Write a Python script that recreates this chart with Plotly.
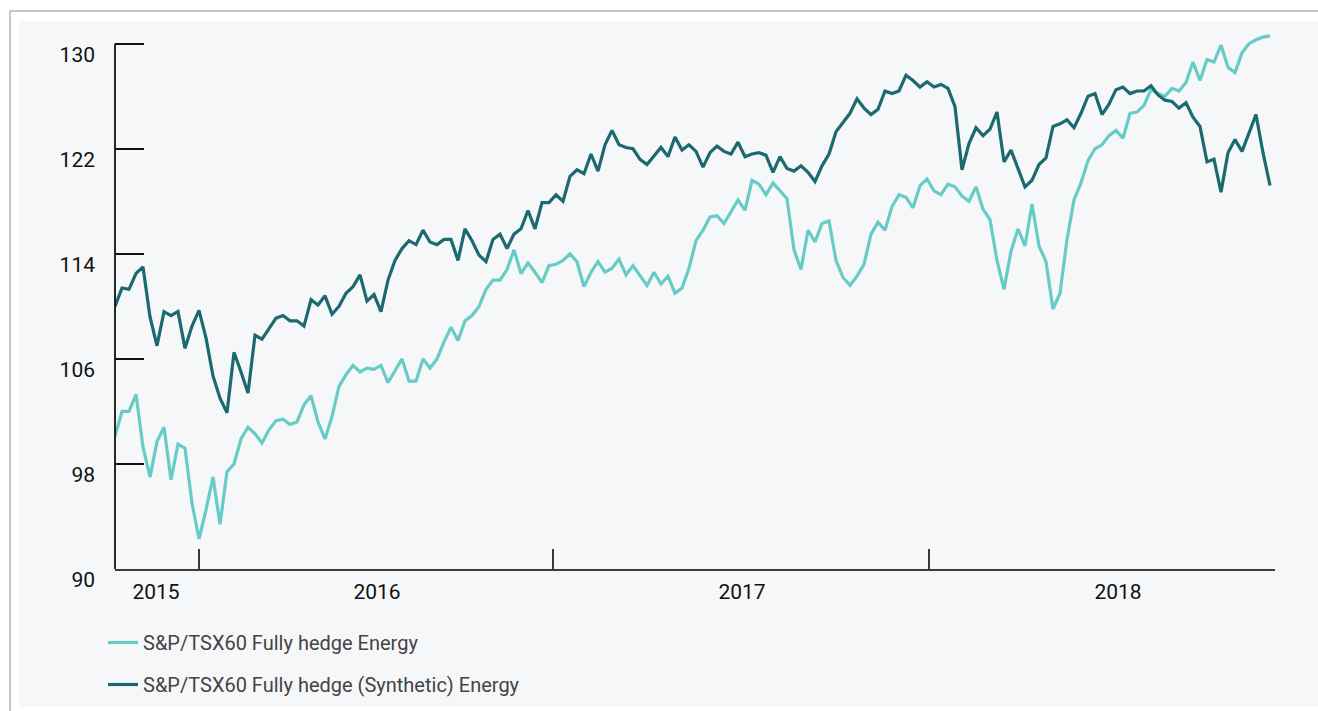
import pandas as pd
import plotly.graph_objects as go

# weekly closes, starting Monday 2015-04-13
start_date = "2015-04-13"
end_date = "2018-06-16"

hedged = [
    100.1, 102.0, 102.0, 103.3, 99.3, 97.0, 99.7, 100.8, 96.8, 99.5,
    99.2, 95.0, 92.3, 94.5, 97.0, 93.4, 97.4, 98.0, 99.9, 100.8,
    100.3, 99.6, 100.6, 101.3, 101.4, 101.0, 101.2, 102.5, 103.2, 101.2,
    99.9, 101.6, 103.9, 104.8, 105.5, 105.0, 105.3, 105.2, 105.5, 104.2,
    105.1, 106.0, 104.3, 104.3, 106.0, 105.3, 106.0, 107.3, 108.4, 107.4,
    108.9, 109.3, 110.0, 111.3, 112.0, 112.0, 112.8, 114.3, 112.5, 113.3,
    112.6, 111.8, 113.1, 113.2, 113.5, 114.0, 113.4, 111.5, 112.6, 113.4,
    112.6, 112.9, 113.6, 112.4, 113.1, 112.4, 111.6, 112.6, 111.7, 112.3,
    111.0, 111.4, 112.9, 115.0, 115.8, 116.8, 116.9, 116.3, 117.2, 118.1,
    117.3, 119.6, 119.3, 118.5, 119.4, 118.8, 118.2, 114.3, 112.8, 115.8,
    114.9, 116.3, 116.5, 113.5, 112.2, 111.6, 112.3, 113.2, 115.5, 116.4,
    115.8, 117.6, 118.5, 118.3, 117.5, 119.2, 119.7, 118.8, 118.5, 119.3,
    119.1, 118.4, 118.0, 119.1, 117.4, 116.6, 113.5, 111.3, 114.2, 115.9,
    114.6, 117.8, 114.6, 113.4, 109.8, 111.0, 115.1, 118.1, 119.4, 121.1,
    122.0, 122.3, 123.0, 123.4, 122.8, 124.7, 124.8, 125.3, 126.5, 126.2,
    126.0, 126.6, 126.4, 127.05, 128.6, 127.2, 128.8, 128.6, 129.9, 128.2,
    127.8, 129.3, 130.0, 130.3, 130.5, 130.6,
]

synthetic = [
    110.0, 111.4, 111.3, 112.5, 113.0, 109.2, 107.0, 109.6, 109.3, 109.6,
    106.8, 108.5, 109.7, 107.6, 104.7, 103.0, 101.9, 106.5, 105.0, 103.4,
    107.8, 107.5, 108.3, 109.1, 109.3, 108.9, 108.9, 108.5, 110.5, 110.1,
    110.8, 109.4, 110.0, 111.0, 111.5, 112.4, 110.4, 110.9, 109.6, 112.0,
    113.5, 114.4, 115.0, 114.7, 115.8, 114.9, 114.7, 115.1, 115.1, 113.5,
    115.9, 115.0, 113.9, 113.4, 115.1, 115.5, 114.4, 115.5, 115.9, 117.3,
    115.9, 117.9, 117.9, 118.5, 118.0, 119.9, 120.4, 120.1, 121.6, 120.3,
    122.3, 123.4, 122.3, 122.1, 122.0, 121.2, 120.8, 121.5, 122.1, 121.4,
    122.9, 121.9, 122.3, 121.8, 120.6, 121.7, 122.2, 121.8, 121.6, 122.5,
    121.4, 121.6, 121.7, 121.5, 120.2, 121.4, 120.5, 120.3, 120.7, 120.2,
    119.5, 120.7, 121.6, 123.3, 124.0, 124.7, 125.8, 125.1, 124.6, 125.0,
    126.4, 126.2, 126.4, 127.6, 127.2, 126.7, 127.1, 126.7, 126.9, 126.6,
    125.2, 120.4, 122.4, 123.6, 123.0, 123.5, 124.8, 121.0, 121.9, 120.5,
    119.1, 119.6, 120.8, 121.3, 123.7, 123.9, 124.2, 123.6, 124.7, 126.0,
    126.2, 124.6, 125.4, 126.5, 126.7, 126.2, 126.4, 126.4, 126.8, 126.1,
    125.7, 125.6, 125.1, 125.5, 124.4, 123.7, 121.0, 121.2, 118.7, 121.7,
    122.7, 121.8, 123.2, 124.6, 121.7, 119.2,
]

dates = pd.date_range(start_date, periods=len(hedged), freq="7D")

year_dates = ["2015-05-24", "2015-12-31", "2016-12-30", "2018-01-10"]
year_labels = ["2015", "2016", "2017", "2018"]
divider_dates = ["2015-07-06", "2016-06-24", "2017-07-05"]
y_ticks = [90, 98, 106, 114, 122, 130]

names = ["S&P/TSX60 Fully hedge Energy", "S&P/TSX60 Fully hedge (Synthetic) Energy"]
colors = ["#67CBC6", "#1B6A6F"]

font_family = "Roboto, 'Noto Sans', sans-serif"
panel_color = "#F6F7F9"
border_color = "#B4B4B4"

fig = go.Figure()
for i, series in enumerate([hedged, synthetic]):
    fig.add_trace(go.Scatter(
        x=dates, y=series, mode="lines", name=names[i],
        line=dict(color=colors[i], width=3.2),
        legendgroup=f"g{i}",
    ))

# panel background and its thin border
fig.add_shape(type="rect", xref="paper", yref="paper", layer="below",
              x0=-0.0828, x1=1.04, y0=-0.2532, y1=1.0055,
              fillcolor=panel_color, line_width=0)
fig.add_shape(type="line", xref="paper", yref="paper",
              x0=-0.0905, x1=1.04, y0=1.0239, y1=1.0239,
              line=dict(color=border_color, width=1.5))
fig.add_shape(type="line", xref="paper", yref="paper",
              x0=-0.0905, x1=-0.0905, y0=-0.27, y1=1.0239,
              line=dict(color=border_color, width=1.5))
# y axis line stops at the top tick
fig.add_shape(type="line", xref="paper", yref="y",
              x0=0, x1=0, y0=90, y1=130,
              line=dict(color="#111111", width=1.8))

fig.update_layout(
    width=1318,
    height=711,
    margin=dict(l=115, r=43, t=24, b=142, autoexpand=False),
    paper_bgcolor="white",
    plot_bgcolor="rgba(0,0,0,0)",
    font=dict(family=font_family, color="#111111"),
    showlegend=True,
    legend=dict(
        x=-0.0103, y=-0.0991, xanchor="left", yanchor="top",
        orientation="v", tracegroupgap=13,
        font=dict(size=20, color="#444444", family=font_family),
        bgcolor="rgba(0,0,0,0)",
    ),
)

fig.update_xaxes(
    type="date",
    range=[start_date, end_date],
    showgrid=False, zeroline=False,
    showline=True, linecolor="#3A3A3A", linewidth=2,
    tickmode="array", tickvals=year_dates, ticktext=year_labels,
    ticks="", ticklabelstandoff=3,
    tickfont=dict(size=21, color="#111111"),
    minor=dict(tickmode="array", tickvals=divider_dates, ticks="inside",
               ticklen=20, tickwidth=2, tickcolor="#3A3A3A", showgrid=False),
)

fig.update_yaxes(
    range=[90, 131.5],
    showgrid=False, zeroline=False, showline=False,
    tickmode="array", tickvals=y_ticks,
    ticks="inside", ticklen=29, tickwidth=1.8, tickcolor="#111111",
    ticklabelstandoff=19, ticklabelshift=11,
    tickfont=dict(size=21, color="#111111"),
)

# page body has a default 8px margin; drop it so the figure sits at 0,0
fig.write_html("out.html", config={"displayModeBar": False},
               post_script="document.body.style.margin = '0';")
